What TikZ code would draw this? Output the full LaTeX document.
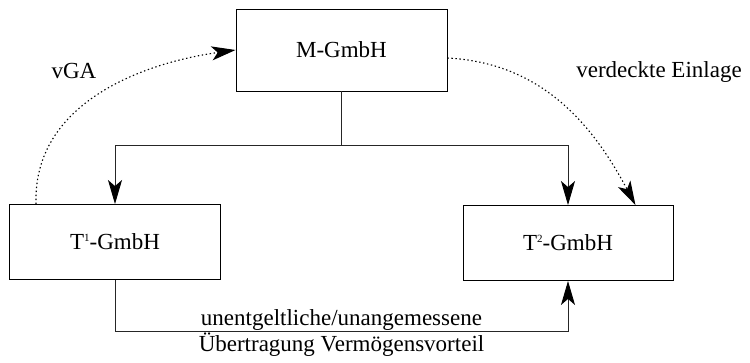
\documentclass[tikz,border=0pt]{standalone}
\usepackage{fontspec}
\setmainfont{Liberation Serif}
\usetikzlibrary{positioning}
\usetikzlibrary{arrows.meta}
\usetikzlibrary{calc}

\newcommand{\tsup}[1]{\raisebox{8pt}{\fontsize{11}{11}\selectfont #1}}

\begin{document}
\begin{tikzpicture}[x=1pt, y=-1pt, font=\fontsize{23}{27}\selectfont,
	firm/.style={draw, line width=0.9pt, minimum width=211pt, inner sep=0pt},
	link/.style={line width=0.9pt, draw=black!85},
	hidden/.style={line width=1.1pt, dash pattern=on 1.4pt off 2.6pt},
	>={Stealth[length=24pt, width=14pt, inset=6pt, black]}]
	 \useasboundingbox (0,0) rectangle (750,362);

	 % the parent and its two subsidiaries
	 \node[firm, minimum height=82pt] (mutter) at (341.5,50) {M-GmbH};
	 \node[firm, minimum height=75pt] (tochter1) at (115,242) {T\tsup{1}-GmbH};
	 \node[firm, minimum width=210pt, minimum height=75pt] (tochter2) at (568,243) {T\tsup{2}-GmbH};

	 % holding lines
	 \coordinate (split) at ($(mutter.south)+(0,54)$);
	 \draw[link] (mutter.south) -- (split);
	 \draw[link,->] (split) -| (tochter1.north);
	 \draw[link,->] (split) -| (tochter2.north);

	 % transfer between the subsidiaries
	 \coordinate (base) at ($(tochter1.south)+(0,51)$);
	 \draw[link,->] (tochter1.south) -- (base) -| node[pos=0.25, above, inner sep=0pt] {unentgeltliche/unangemessene}
	 	node[pos=0.25, below, inner sep=1pt] {Übertragung Vermögensvorteil} (tochter2.south);

	 % vGA and verdeckte Einlage
	 \draw[hidden,->] ($(tochter1.north west)+(27,0)$) to[out=92,in=188] (mutter.west);
	 \draw[hidden,->] ($(mutter.east)+(0,8)$) to[out=-3,in=118] ($(tochter2.north east)+(-38,0)$);
	 \node (vga) at (74,71) {vGA};
	 \node (einlage) at (659,72) {verdeckte Einlage};
\end{tikzpicture}
\end{document}
